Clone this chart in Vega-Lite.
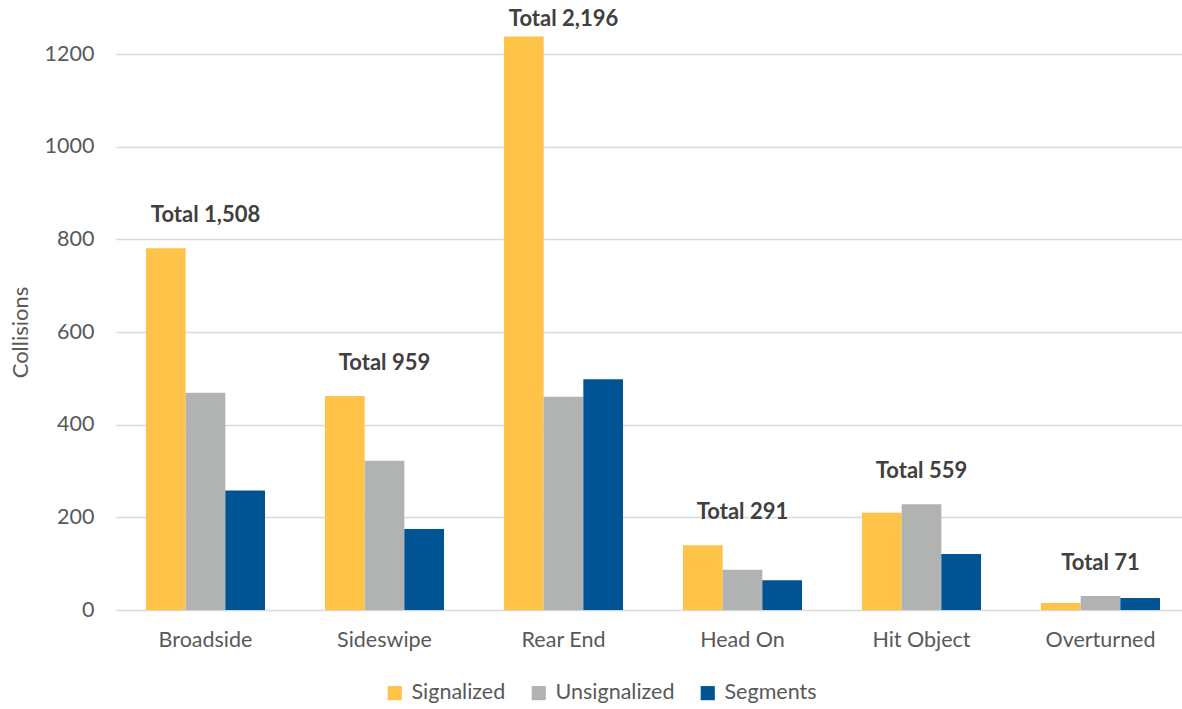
{
  "$schema": "https://vega.github.io/schema/vega-lite/v6.json",
  "width": 1074,
  "height": 556,
  "autosize": {"type": "none"},
  "padding": {"left": 116, "top": 54, "right": 0, "bottom": 99},
  "background": "white",
  "config": {
    "font": "Lato",
    "view": {"stroke": null}
  },
  "data": {
    "values": [
      {"type": "Broadside", "series": "Signalized", "collisions": 781},
      {"type": "Broadside", "series": "Unsignalized", "collisions": 469},
      {"type": "Broadside", "series": "Segments", "collisions": 258},
      {"type": "Sideswipe", "series": "Signalized", "collisions": 462},
      {"type": "Sideswipe", "series": "Unsignalized", "collisions": 322},
      {"type": "Sideswipe", "series": "Segments", "collisions": 175},
      {"type": "Rear End", "series": "Signalized", "collisions": 1238},
      {"type": "Rear End", "series": "Unsignalized", "collisions": 460},
      {"type": "Rear End", "series": "Segments", "collisions": 498},
      {"type": "Head On", "series": "Signalized", "collisions": 140},
      {"type": "Head On", "series": "Unsignalized", "collisions": 87},
      {"type": "Head On", "series": "Segments", "collisions": 64},
      {"type": "Hit Object", "series": "Signalized", "collisions": 210},
      {"type": "Hit Object", "series": "Unsignalized", "collisions": 228},
      {"type": "Hit Object", "series": "Segments", "collisions": 121},
      {"type": "Overturned", "series": "Signalized", "collisions": 15},
      {"type": "Overturned", "series": "Unsignalized", "collisions": 30},
      {"type": "Overturned", "series": "Segments", "collisions": 26}
    ]
  },
  "encoding": {
    "x": {
      "field": "type",
      "type": "nominal",
      "sort": ["Broadside", "Sideswipe", "Rear End", "Head On", "Hit Object", "Overturned"],
      "scale": {"paddingInner": 0.335, "paddingOuter": 0.1675},
      "axis": {
        "title": null,
        "labelAngle": 0,
        "labelFontSize": 21.5,
        "labelColor": "#595959",
        "labelPadding": 19,
        "ticks": false,
        "domain": false
      }
    }
  },
  "layer": [
    {
      "mark": {"type": "bar"},
      "encoding": {
        "xOffset": {
          "field": "series",
          "type": "nominal",
          "sort": ["Signalized", "Unsignalized", "Segments"],
          "scale": {"paddingInner": 0, "paddingOuter": 0}
        },
        "y": {
          "field": "collisions",
          "type": "quantitative",
          "scale": {"domain": [0, 1200], "nice": false},
          "axis": {
            "title": "Collisions",
            "titleFontSize": 22,
            "titleFontWeight": "normal",
            "titleColor": "#595959",
            "titlePadding": 12,
            "values": [0, 200, 400, 600, 800, 1000, 1200],
            "format": "d",
            "labelFontSize": 21.5,
            "labelColor": "#595959",
            "labelPadding": 22,
            "ticks": false,
            "domain": false,
            "grid": true,
            "gridColor": "#D9D9D9",
            "gridWidth": 1.5
          }
        },
        "color": {
          "field": "series",
          "type": "nominal",
          "sort": ["Signalized", "Unsignalized", "Segments"],
          "scale": {
            "domain": ["Signalized", "Unsignalized", "Segments"],
            "range": ["#FFC34A", "#B1B3B3", "#005494"]
          },
          "legend": {
            "title": null,
            "orient": "none",
            "direction": "horizontal",
            "legendX": 268,
            "legendY": 628,
            "symbolType": "square",
            "symbolSize": 200,
            "symbolStrokeWidth": 0,
            "labelFontSize": 21.5,
            "labelColor": "#595959",
            "columnPadding": 22,
            "labelOffset": 6
          }
        }
      }
    },
    {
      "transform": [
        {"aggregate": [
          {"op": "sum", "field": "collisions", "as": "total"},
          {"op": "max", "field": "collisions", "as": "top"}
        ], "groupby": ["type"]},
        {"calculate": "'Total ' + format(datum.total, ',')", "as": "label"},
        {"calculate": "min(datum.top, 1205)", "as": "anchor"}
      ],
      "mark": {
        "type": "text",
        "font": "Lato",
        "fontSize": 22,
        "fontWeight": "bold",
        "color": "#404040",
        "baseline": "middle",
        "dy": -33
      },
      "encoding": {
        "y": {"field": "anchor", "type": "quantitative"},
        "text": {"field": "label"}
      }
    }
  ]
}
